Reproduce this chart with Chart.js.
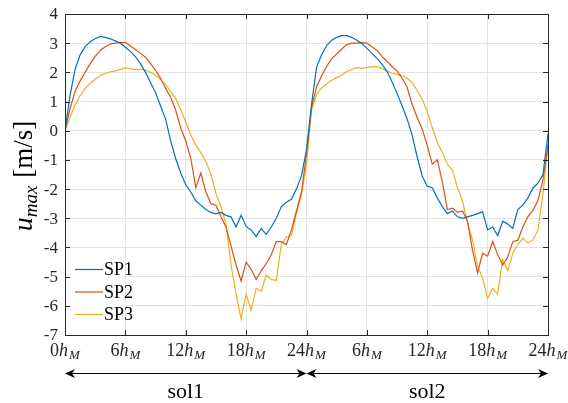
<!DOCTYPE html>
<html>
<head>
<meta charset="utf-8">
<script src="https://cdn.jsdelivr.net/npm/chart.js@4.4.0/dist/chart.umd.min.js"></script>
<style>
  html, body { margin: 0; padding: 0; background: #fff; }
  #wrap { width: 568px; height: 403px; }
</style>
</head>
<body>
<div id="wrap"><canvas id="chart" width="568" height="403"></canvas></div>
<script>
// time in hours (two martian sols)
const hours = [0,0.5,1,1.5,2,2.5,3,3.5,4,4.5,5,5.5,6,6.5,7,7.5,8,8.5,9,9.5,10,10.5,11,11.5,
  12,12.5,13,13.5,14,14.5,15,15.5,16,16.5,17,17.5,18,18.5,19,19.5,20,20.5,21,21.5,22,22.5,23,23.5,
  24,24.5,25,25.5,26,26.5,27,27.5,28,28.5,29,29.5,30,30.5,31,31.5,32,32.5,33,33.5,34,34.5,35,35.5,
  36,36.5,37,37.5,38,38.5,39,39.5,40,40.5,41,41.5,42,42.5,43,43.5,44,44.5,45,45.5,46,46.5,47,47.5,48]

const sp1 = [0,1.2,2.1,2.6,2.88,3.05,3.15,3.23,3.2,3.15,3.08,3.0,2.86,2.72,2.54,2.3,2.0,1.65,1.3,0.85,0.4,-0.35,-0.95,-1.45,
  -1.85,-2.1,-2.4,-2.55,-2.7,-2.8,-2.85,-2.8,-2.9,-2.95,-3.3,-2.9,-3.28,-3.4,-3.62,-3.35,-3.55,-3.3,-3.0,-2.6,-2.45,-2.35,-2.0,-1.55,
  -0.65,0.9,2.18,2.6,2.92,3.1,3.2,3.26,3.26,3.2,3.1,2.98,2.83,2.65,2.48,2.28,2.03,1.68,1.28,0.85,0.4,-0.15,-0.9,-1.55,
  -1.9,-1.95,-2.3,-2.6,-2.84,-2.75,-2.95,-3.0,-2.95,-2.9,-2.84,-2.78,-3.4,-3.3,-3.6,-3.1,-3.2,-3.35,-2.7,-2.55,-2.3,-1.97,-1.8,-1.5,-0.1]

const sp2 = [0,0.75,1.35,1.7,2.0,2.3,2.55,2.75,2.88,2.97,3.0,3.02,3.03,2.9,2.78,2.65,2.52,2.3,2.07,1.8,1.45,1.15,0.7,0.1,
  -0.35,-0.95,-1.95,-1.45,-2.1,-2.5,-2.55,-2.95,-3.3,-3.95,-4.6,-5.15,-4.5,-4.75,-5.1,-4.8,-4.55,-4.25,-3.8,-3.8,-3.9,-3.4,-2.75,-2.1,
  -0.8,0.8,1.5,1.88,2.2,2.47,2.63,2.8,2.95,3.0,3.0,3.02,3.0,2.88,2.75,2.55,2.38,2.2,2.05,1.8,1.49,0.9,0.45,0.05,
  -0.5,-1.15,-1.0,-1.75,-2.7,-2.65,-2.8,-2.75,-3.1,-4.1,-4.87,-4.2,-4.3,-3.8,-4.25,-4.6,-4.33,-3.8,-3.75,-3.3,-2.95,-2.73,-2.4,-1.68,-0.5]

const sp3 = [0,0.47,0.88,1.2,1.44,1.62,1.77,1.89,1.96,2.02,2.05,2.1,2.15,2.12,2.1,2.1,2.08,2.0,1.9,1.75,1.58,1.35,1.1,0.72,
  0.3,-0.15,-0.5,-0.75,-1.05,-1.5,-2.15,-2.6,-3.2,-4.6,-5.6,-6.45,-5.6,-6.15,-5.4,-5.5,-4.95,-5.1,-5.13,-3.9,-3.64,-3.6,-2.84,-2.2,
  -1.13,0.7,1.25,1.47,1.6,1.72,1.82,1.9,2.03,2.1,2.17,2.14,2.17,2.19,2.2,2.13,2.05,1.97,1.93,1.89,1.8,1.65,1.38,1.08,
  0.65,0.1,-0.4,-0.75,-1.15,-1.35,-1.95,-2.4,-3.15,-3.75,-4.65,-5.05,-5.75,-5.4,-5.6,-4.4,-4.8,-4.2,-3.9,-3.68,-3.85,-3.75,-3.4,-2.16,-0.45]

const seriesNames = ['SP1', 'SP2', 'SP3']
const seriesColors = ['#0072BD', '#D95319', '#EDB120']
const tickHours = [0, 6, 12, 18, 24, 30, 36, 42, 48]
const tickLabels = ['0', '6', '12', '18', '24', '6', '12', '18', '24']
const yTicks = [4, 3, 2, 1, 0, -1, -2, -3, -4, -5, -6, -7]
const sols = [{ label: 'sol1', from: 0, to: 24 }, { label: 'sol2', from: 24, to: 48 }]

const SERIF = "'Liberation Serif', 'DejaVu Serif', serif"
const AXIS = '#262626'

const toPoints = vals => vals.map((v, i) => ({ x: hours[i], y: v }))

const arrowHead = (ctx, x, y, dir) => {
    ctx.beginPath()
    ctx.moveTo(x, y)
    ctx.lineTo(x - dir * 10, y - 4.5)
    ctx.lineTo(x - dir * 7, y)
    ctx.lineTo(x - dir * 10, y + 4.5)
    ctx.closePath()
    ctx.fill()
}

const decor = {
    id: 'decor',
    beforeDraw(chart) {
        const ctx = chart.ctx
        ctx.save()
        ctx.fillStyle = '#fff'
        ctx.fillRect(0, 0, chart.width, chart.height)
        ctx.restore()
    },
    afterDatasetsDraw(chart) {
        const { ctx, chartArea: a, scales } = chart
        const xs = scales.x, ys = scales.y
        ctx.save()

        // legend
        ctx.fillStyle = '#fff'
        ctx.fillRect(a.left + 1, 257, 58, 68)
        const rows = [269.5, 292, 314.5]
        seriesNames.forEach((name, i) => {
            ctx.strokeStyle = seriesColors[i]
            ctx.lineWidth = 1.2
            ctx.beginPath()
            ctx.moveTo(a.left + 10, rows[i])
            ctx.lineTo(a.left + 38, rows[i])
            ctx.stroke()
            ctx.fillStyle = '#000'
            ctx.font = '18px ' + SERIF
            ctx.textBaseline = 'middle'
            ctx.textAlign = 'left'
            ctx.fillText(name, a.left + 39, rows[i] + 1)
        })

        // axes box with inward ticks
        ctx.strokeStyle = AXIS
        ctx.lineWidth = 1
        ctx.strokeRect(a.left + 0.5, a.top + 0.5, a.right - a.left, a.bottom - a.top)
        ctx.beginPath()
        tickHours.forEach(h => {
            const px = Math.round(xs.getPixelForValue(h)) + 0.5
            ctx.moveTo(px, a.bottom); ctx.lineTo(px, a.bottom - 5)
            ctx.moveTo(px, a.top); ctx.lineTo(px, a.top + 5)
        })
        yTicks.forEach(v => {
            const py = Math.round(ys.getPixelForValue(v)) + 0.5
            ctx.moveTo(a.left, py); ctx.lineTo(a.left + 5, py)
            ctx.moveTo(a.right, py); ctx.lineTo(a.right - 5, py)
        })
        ctx.stroke()

        // y tick labels
        ctx.fillStyle = AXIS
        ctx.font = '17px ' + SERIF
        ctx.textAlign = 'right'
        ctx.textBaseline = 'middle'
        yTicks.forEach(v => {
            ctx.fillText(String(v), a.left - 7, ys.getPixelForValue(v) + 1)
        })

        // x tick labels: N h_M
        ctx.textBaseline = 'alphabetic'
        ctx.textAlign = 'left'
        tickHours.forEach((h, i) => {
            const px = xs.getPixelForValue(h)
            const fNum = '18px ' + SERIF, fH = 'italic 18px ' + SERIF, fM = 'italic 13px ' + SERIF
            ctx.font = fNum; const w1 = ctx.measureText(tickLabels[i]).width
            ctx.font = fH; const w2 = ctx.measureText('h').width
            ctx.font = fM; const w3 = ctx.measureText('M').width
            const x0 = px - (w1 + w2 + w3 + 1) / 2
            const base = 356
            ctx.font = fNum; ctx.fillText(tickLabels[i], x0, base)
            ctx.font = fH; ctx.fillText('h', x0 + w1, base)
            ctx.font = fM; ctx.fillText('M', x0 + w1 + w2 + 1, base + 3)
        })

        // y axis title: u_max [m/s]
        ctx.save()
        ctx.translate(32, 176)
        ctx.rotate(-Math.PI / 2)
        const fU = 'italic 28px ' + SERIF, fSub = 'italic 19px ' + SERIF, fUnit = '27px ' + SERIF
        ctx.font = fU; const wu = ctx.measureText('u').width
        ctx.font = fSub; const wm = ctx.measureText('max').width
        ctx.font = fUnit; const wb = ctx.measureText('[m/s]').width
        const gap = 8
        const sx = -(wu + wm + gap + wb) / 2
        ctx.fillStyle = '#000'
        ctx.textBaseline = 'alphabetic'
        ctx.font = fU; ctx.fillText('u', sx, 0)
        ctx.font = fSub; ctx.fillText('max', sx + wu, 5)
        ctx.font = fUnit; ctx.fillText('[m/s]', sx + wu + wm + gap, 0)
        ctx.restore()

        // sol arrows
        ctx.strokeStyle = '#000'
        ctx.fillStyle = '#000'
        ctx.lineWidth = 1.2
        const ay = 373.5
        sols.forEach(s => {
            const x1 = xs.getPixelForValue(s.from), x2 = xs.getPixelForValue(s.to)
            ctx.beginPath()
            ctx.moveTo(x1 + 4, ay); ctx.lineTo(x2 - 4, ay)
            ctx.stroke()
            arrowHead(ctx, x1, ay, -1)
            arrowHead(ctx, x2, ay, 1)
            ctx.font = '22px ' + SERIF
            ctx.textAlign = 'center'
            ctx.textBaseline = 'alphabetic'
            ctx.fillText(s.label, (x1 + x2) / 2, 398)
        })
        ctx.restore()
    }
}

new Chart(document.getElementById('chart'), {
    type: 'line',
    data: {
        datasets: [sp1, sp2, sp3].map((vals, i) => ({
            label: seriesNames[i],
            data: toPoints(vals),
            borderColor: seriesColors[i],
            borderWidth: 1.2,
            pointRadius: 0,
            tension: 0,
            fill: false
        }))
    },
    options: {
        responsive: false,
        animation: false,
        layout: { padding: { top: 14, right: 20, left: 0, bottom: 0 } },
        plugins: { legend: { display: false }, tooltip: { enabled: false } },
        scales: {
            x: {
                type: 'linear',
                min: 0, max: 48,
                afterBuildTicks: scale => { scale.ticks = tickHours.map(v => ({ value: v })) },
                afterFit: scale => { scale.height = 68 },
                ticks: { display: false },
                grid: { color: '#e3e3e3', drawTicks: false },
                border: { display: false }
            },
            y: {
                min: -7, max: 4,
                afterBuildTicks: scale => { scale.ticks = yTicks.map(v => ({ value: v })) },
                afterFit: scale => { scale.width = 65 },
                ticks: { display: false },
                grid: { color: '#e3e3e3', drawTicks: false },
                border: { display: false }
            }
        }
    },
    plugins: [decor]
})
</script>
</body>
</html>
